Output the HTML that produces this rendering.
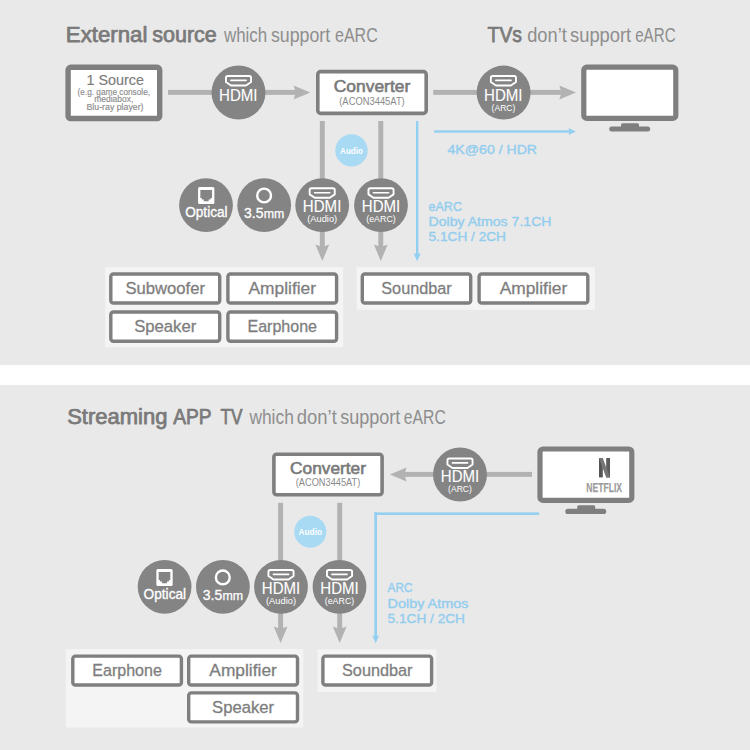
<!DOCTYPE html>
<html><head><meta charset="utf-8"><style>
html,body{margin:0;padding:0;background:#e9e9e9;}
body{width:750px;height:750px;overflow:hidden;}
svg{display:block;font-family:"Liberation Sans", sans-serif;}
</style></head><body>
<svg width="750" height="750" viewBox="0 0 750 750">
<rect x="0" y="0" width="750.00" height="750.00" rx="0" fill="#e9e9e9"/>
<rect x="0" y="365" width="750.00" height="20.00" rx="0" fill="#ffffff"/>
<text x="65.8" y="42" font-size="21.3" font-weight="normal" fill="#7a7a7a" text-anchor="start" textLength="81.6" lengthAdjust="spacingAndGlyphs" stroke="#7a7a7a" stroke-width="0.75" stroke-linejoin="round" >External</text>
<text x="152.2" y="42" font-size="21.3" font-weight="normal" fill="#7a7a7a" text-anchor="start" textLength="64.6" lengthAdjust="spacingAndGlyphs" stroke="#7a7a7a" stroke-width="0.75" stroke-linejoin="round" >source</text>
<text x="224.0" y="42" font-size="19.5" font-weight="normal" fill="#8e8e8e" text-anchor="start" textLength="43.2" lengthAdjust="spacingAndGlyphs" >which</text>
<text x="271.0" y="42" font-size="19.5" font-weight="normal" fill="#8e8e8e" text-anchor="start" textLength="59.2" lengthAdjust="spacingAndGlyphs" >support</text>
<text x="335.0" y="42" font-size="19.5" font-weight="normal" fill="#8e8e8e" text-anchor="start" textLength="42.8" lengthAdjust="spacingAndGlyphs" >eARC</text>
<text x="487.6" y="42" font-size="21.3" font-weight="normal" fill="#7a7a7a" text-anchor="start" textLength="34.4" lengthAdjust="spacingAndGlyphs" stroke="#7a7a7a" stroke-width="0.75" stroke-linejoin="round" >TVs</text>
<text x="527.2" y="42" font-size="19.5" font-weight="normal" fill="#8e8e8e" text-anchor="start" textLength="39.6" lengthAdjust="spacingAndGlyphs" >don’t</text>
<text x="570.0" y="42" font-size="19.5" font-weight="normal" fill="#8e8e8e" text-anchor="start" textLength="61.2" lengthAdjust="spacingAndGlyphs" >support</text>
<text x="635.2" y="42" font-size="19.5" font-weight="normal" fill="#8e8e8e" text-anchor="start" textLength="40.4" lengthAdjust="spacingAndGlyphs" >eARC</text>
<rect x="68.10" y="67.30" width="91.60" height="51.20" rx="2.6" fill="#fff" stroke="#7f7f7f" stroke-width="5.4"/>
<text x="115.3" y="85" font-size="14.5" font-weight="normal" fill="#7c7c7c" text-anchor="middle" textLength="57.5" lengthAdjust="spacingAndGlyphs" stroke="#7c7c7c" stroke-width="0.15" stroke-linejoin="round" >1 Source</text>
<text x="113.8" y="94.6" font-size="9.5" font-weight="normal" fill="#8a8a8a" text-anchor="middle" textLength="72.5" lengthAdjust="spacingAndGlyphs" stroke="#8a8a8a" stroke-width="0.15" stroke-linejoin="round" >(e.g. game console,</text>
<text x="113.8" y="102.2" font-size="9.5" font-weight="normal" fill="#8a8a8a" text-anchor="middle" textLength="39" lengthAdjust="spacingAndGlyphs" stroke="#8a8a8a" stroke-width="0.15" stroke-linejoin="round" >mediabox,</text>
<text x="115.0" y="110.2" font-size="9.5" font-weight="normal" fill="#8a8a8a" text-anchor="middle" textLength="57" lengthAdjust="spacingAndGlyphs" stroke="#8a8a8a" stroke-width="0.15" stroke-linejoin="round" >Blu-ray player)</text>
<rect x="168" y="89.92500000000001" width="128.80" height="4.95" rx="0" fill="#b2b2b2"/>
<polygon points="293.60,85.40 310.30,92.40 293.60,99.40 295.80,92.40" fill="#b2b2b2"/>
<circle cx="238.5" cy="92.5" r="27" fill="#848484"/>
<path d="M227.75,75.95 H249.25 Q251.05,75.95 251.05,77.75 V82.07 L246.05,85.45 H230.95 L225.95,82.07 V77.75 Q225.95,75.95 227.75,75.95 Z" fill="none" stroke="#fff" stroke-width="1.9" stroke-linejoin="round"/>
<rect x="230.10" y="79.60" width="16.80" height="1.7" rx="0.8" fill="#fff"/>
<text x="238.3" y="100.5" font-size="15.7" font-weight="normal" fill="#fff" text-anchor="middle" textLength="38.5" lengthAdjust="spacingAndGlyphs" stroke="#fff" stroke-width="0.1" stroke-linejoin="round" >HDMI</text>
<rect x="317.80" y="71.60" width="108.40" height="41.80" rx="2.8" fill="#fff" stroke="#7f7f7f" stroke-width="3.6"/>
<text x="372" y="91.8" font-size="17.2" font-weight="normal" fill="#7a7a7a" text-anchor="middle" textLength="76.5" lengthAdjust="spacingAndGlyphs" stroke="#7a7a7a" stroke-width="0.65" stroke-linejoin="round" >Converter</text>
<text x="372" y="104.5" font-size="10" font-weight="normal" fill="#8a8a8a" text-anchor="middle" textLength="65.5" lengthAdjust="spacingAndGlyphs" >(ACON3445AT)</text>
<rect x="433.2" y="89.92500000000001" width="129.30" height="4.95" rx="0" fill="#b2b2b2"/>
<polygon points="559.30,85.40 576.00,92.40 559.30,99.40 561.50,92.40" fill="#b2b2b2"/>
<circle cx="503.6" cy="92.6" r="27" fill="#848484"/>
<path d="M492.65,75.95 H514.15 Q515.95,75.95 515.95,77.75 V82.07 L510.95,85.45 H495.85 L490.85,82.07 V77.75 Q490.85,75.95 492.65,75.95 Z" fill="none" stroke="#fff" stroke-width="1.9" stroke-linejoin="round"/>
<rect x="495.00" y="79.60" width="16.80" height="1.7" rx="0.8" fill="#fff"/>
<text x="503.3" y="100.5" font-size="15.7" font-weight="normal" fill="#fff" text-anchor="middle" textLength="38.5" lengthAdjust="spacingAndGlyphs" stroke="#fff" stroke-width="0.1" stroke-linejoin="round" >HDMI</text>
<text x="503.5" y="110.6" font-size="9" font-weight="normal" fill="#fff" text-anchor="middle" textLength="23.8" lengthAdjust="spacingAndGlyphs" >(ARC)</text>
<rect x="583.80" y="67.20" width="92.00" height="51.20" rx="3" fill="#fff" stroke="#7f7f7f" stroke-width="5.2"/>
<path d="M621,127 V124.8 Q621,123.3 622.5,123.3 H637.5 Q639,123.3 639,124.8 V127 Z" fill="#7f7f7f"/>
<rect x="609.2" y="126.6" width="41.00" height="5.00" rx="2.5" fill="#7f7f7f"/>
<rect x="434" y="130.3" width="136.40" height="2.40" rx="0" fill="#93cff0"/>
<polygon points="568.60,128.00 576.00,131.50 568.60,135.00 569.40,131.50" fill="#93cff0"/>
<text x="447.5" y="153.8" font-size="13.5" font-weight="normal" fill="#93cdee" text-anchor="start" textLength="89.5" lengthAdjust="spacingAndGlyphs" stroke="#93cdee" stroke-width="0.4" stroke-linejoin="round" >4K@60 / HDR</text>
<rect x="319.825" y="121" width="4.95" height="127.00" rx="0" fill="#b2b2b2"/>
<polygon points="315.40,244.60 322.30,261.10 329.20,244.60 322.30,247.00" fill="#b2b2b2"/>
<rect x="378.325" y="121" width="4.95" height="127.00" rx="0" fill="#b2b2b2"/>
<polygon points="373.90,244.60 380.80,261.10 387.70,244.60 380.80,247.00" fill="#b2b2b2"/>
<rect x="416.0" y="121" width="2.40" height="134.10" rx="0" fill="#93cff0"/>
<polygon points="413.70,253.30 417.20,261.30 420.70,253.30 417.20,254.10" fill="#93cff0"/>
<circle cx="351.5" cy="150.4" r="16.2" fill="#a8daf4"/>
<text x="351.5" y="153.8" font-size="9.3" font-weight="bold" fill="#fff" text-anchor="middle" textLength="22.8" lengthAdjust="spacingAndGlyphs" >Audio</text>
<circle cx="206" cy="205.2" r="26.9" fill="#848484"/>
<circle cx="264.2" cy="205.2" r="26.9" fill="#848484"/>
<circle cx="322.2" cy="205.2" r="26.9" fill="#848484"/>
<circle cx="381" cy="205.2" r="26.9" fill="#848484"/>
<rect x="198.04999999999998" y="187.1" width="16.30" height="17.00" rx="1.5" fill="#fff"/>
<path d="M200.35,190.10 H212.05 V197.90 H210.65 V199.50 H208.65 V201.30 H203.75 V199.50 H201.75 V197.90 H200.35 Z" fill="#848484"/>
<text x="206.4" y="217.2" font-size="14" font-weight="normal" fill="#fff" text-anchor="middle" textLength="42.5" lengthAdjust="spacingAndGlyphs" stroke="#fff" stroke-width="0.3" stroke-linejoin="round" >Optical</text>
<circle cx="264.1" cy="195.5" r="6.9" fill="none" stroke="#fff" stroke-width="2.4"/>
<text x="244.1" y="217.5" font-size="13.8" font-weight="normal" fill="#fff" text-anchor="start" textLength="19.4" lengthAdjust="spacingAndGlyphs" stroke="#fff" stroke-width="0.3" stroke-linejoin="round" >3.5</text>
<text x="263.8" y="217.5" font-size="12.7" font-weight="normal" fill="#fff" text-anchor="start" textLength="20.6" lengthAdjust="spacingAndGlyphs" stroke="#fff" stroke-width="0.25" stroke-linejoin="round" >mm</text>
<path d="M311.45,188.25 H332.95 Q334.75,188.25 334.75,190.05 V194.37 L329.75,197.75 H314.65 L309.65,194.37 V190.05 Q309.65,188.25 311.45,188.25 Z" fill="none" stroke="#fff" stroke-width="1.9" stroke-linejoin="round"/>
<rect x="313.80" y="191.90" width="16.80" height="1.7" rx="0.8" fill="#fff"/>
<text x="322.1" y="212.3" font-size="15.7" font-weight="normal" fill="#fff" text-anchor="middle" textLength="38.5" lengthAdjust="spacingAndGlyphs" stroke="#fff" stroke-width="0.1" stroke-linejoin="round" >HDMI</text>
<text x="322.2" y="222" font-size="9" font-weight="normal" fill="#fff" text-anchor="middle" textLength="30" lengthAdjust="spacingAndGlyphs" >(Audio)</text>
<path d="M370.25,188.25 H391.75 Q393.55,188.25 393.55,190.05 V194.37 L388.55,197.75 H373.45 L368.45,194.37 V190.05 Q368.45,188.25 370.25,188.25 Z" fill="none" stroke="#fff" stroke-width="1.9" stroke-linejoin="round"/>
<rect x="372.60" y="191.90" width="16.80" height="1.7" rx="0.8" fill="#fff"/>
<text x="381" y="212.3" font-size="15.7" font-weight="normal" fill="#fff" text-anchor="middle" textLength="38.5" lengthAdjust="spacingAndGlyphs" stroke="#fff" stroke-width="0.1" stroke-linejoin="round" >HDMI</text>
<text x="381" y="222" font-size="9" font-weight="normal" fill="#fff" text-anchor="middle" textLength="29.5" lengthAdjust="spacingAndGlyphs" >(eARC)</text>
<text x="428.5" y="210.7" font-size="13.5" font-weight="normal" fill="#93cdee" text-anchor="start" textLength="33.5" lengthAdjust="spacingAndGlyphs" stroke="#93cdee" stroke-width="0.4" stroke-linejoin="round" >eARC</text>
<text x="428.5" y="226.3" font-size="13.5" font-weight="normal" fill="#93cdee" text-anchor="start" textLength="123" lengthAdjust="spacingAndGlyphs" stroke="#93cdee" stroke-width="0.4" stroke-linejoin="round" >Dolby Atmos 7.1CH</text>
<text x="428.5" y="241.2" font-size="13.5" font-weight="normal" fill="#93cdee" text-anchor="start" textLength="77.5" lengthAdjust="spacingAndGlyphs" stroke="#93cdee" stroke-width="0.4" stroke-linejoin="round" >5.1CH / 2CH</text>
<rect x="105.3" y="267.2" width="237.90" height="80.00" rx="0" fill="#f4f4f4"/>
<rect x="356.7" y="267.2" width="238.30" height="42.60" rx="0" fill="#f4f4f4"/>
<rect x="110.80" y="274.00" width="108.90" height="29.00" rx="2.6" fill="#fff" stroke="#7f7f7f" stroke-width="3.4"/>
<text x="165.25" y="294.2" font-size="16.3" font-weight="normal" fill="#7e7e7e" text-anchor="middle" textLength="79.5" lengthAdjust="spacingAndGlyphs" stroke="#7e7e7e" stroke-width="0.3" stroke-linejoin="round" >Subwoofer</text>
<rect x="227.90" y="274.00" width="108.70" height="29.00" rx="2.6" fill="#fff" stroke="#7f7f7f" stroke-width="3.4"/>
<text x="282.25" y="294.2" font-size="16.3" font-weight="normal" fill="#7e7e7e" text-anchor="middle" textLength="67.5" lengthAdjust="spacingAndGlyphs" stroke="#7e7e7e" stroke-width="0.3" stroke-linejoin="round" >Amplifier</text>
<rect x="110.80" y="312.00" width="108.90" height="29.20" rx="2.6" fill="#fff" stroke="#7f7f7f" stroke-width="3.4"/>
<text x="165.25" y="332.2" font-size="16.3" font-weight="normal" fill="#7e7e7e" text-anchor="middle" textLength="62" lengthAdjust="spacingAndGlyphs" stroke="#7e7e7e" stroke-width="0.3" stroke-linejoin="round" >Speaker</text>
<rect x="227.90" y="312.00" width="108.70" height="29.20" rx="2.6" fill="#fff" stroke="#7f7f7f" stroke-width="3.4"/>
<text x="282.25" y="332.2" font-size="16.3" font-weight="normal" fill="#7e7e7e" text-anchor="middle" textLength="69.5" lengthAdjust="spacingAndGlyphs" stroke="#7e7e7e" stroke-width="0.3" stroke-linejoin="round" >Earphone</text>
<rect x="362.30" y="274.00" width="108.40" height="29.00" rx="2.6" fill="#fff" stroke="#7f7f7f" stroke-width="3.4"/>
<text x="416.5" y="294.2" font-size="16.3" font-weight="normal" fill="#7e7e7e" text-anchor="middle" textLength="70.5" lengthAdjust="spacingAndGlyphs" stroke="#7e7e7e" stroke-width="0.3" stroke-linejoin="round" >Soundbar</text>
<rect x="479.10" y="274.00" width="108.70" height="29.00" rx="2.6" fill="#fff" stroke="#7f7f7f" stroke-width="3.4"/>
<text x="533.45" y="294.2" font-size="16.3" font-weight="normal" fill="#7e7e7e" text-anchor="middle" textLength="67.5" lengthAdjust="spacingAndGlyphs" stroke="#7e7e7e" stroke-width="0.3" stroke-linejoin="round" >Amplifier</text>
<text x="67.2" y="424" font-size="21.3" font-weight="normal" fill="#7a7a7a" text-anchor="start" textLength="100.2" lengthAdjust="spacingAndGlyphs" stroke="#7a7a7a" stroke-width="0.75" stroke-linejoin="round" >Streaming</text>
<text x="173.2" y="424" font-size="21.3" font-weight="normal" fill="#7a7a7a" text-anchor="start" textLength="38.4" lengthAdjust="spacingAndGlyphs" stroke="#7a7a7a" stroke-width="0.75" stroke-linejoin="round" >APP</text>
<text x="220.6" y="424" font-size="21.3" font-weight="normal" fill="#7a7a7a" text-anchor="start" textLength="22.0" lengthAdjust="spacingAndGlyphs" stroke="#7a7a7a" stroke-width="0.75" stroke-linejoin="round" >TV</text>
<text x="249.4" y="424" font-size="19.5" font-weight="normal" fill="#8e8e8e" text-anchor="start" textLength="44.4" lengthAdjust="spacingAndGlyphs" >which</text>
<text x="296.8" y="424" font-size="19.5" font-weight="normal" fill="#8e8e8e" text-anchor="start" textLength="40.0" lengthAdjust="spacingAndGlyphs" >don’t</text>
<text x="340.2" y="424" font-size="19.5" font-weight="normal" fill="#8e8e8e" text-anchor="start" textLength="60.2" lengthAdjust="spacingAndGlyphs" >support</text>
<text x="403.8" y="424" font-size="19.5" font-weight="normal" fill="#8e8e8e" text-anchor="start" textLength="42.0" lengthAdjust="spacingAndGlyphs" >eARC</text>
<rect x="273.90" y="454.30" width="108.20" height="40.40" rx="2.8" fill="#fff" stroke="#7f7f7f" stroke-width="3.6"/>
<text x="328" y="473.9" font-size="17.2" font-weight="normal" fill="#7a7a7a" text-anchor="middle" textLength="76" lengthAdjust="spacingAndGlyphs" stroke="#7a7a7a" stroke-width="0.65" stroke-linejoin="round" >Converter</text>
<text x="328" y="486.4" font-size="10" font-weight="normal" fill="#8a8a8a" text-anchor="middle" textLength="64.5" lengthAdjust="spacingAndGlyphs" >(ACON3445AT)</text>
<rect x="403.4" y="471.92499999999995" width="128.60" height="4.95" rx="0" fill="#b2b2b2"/>
<polygon points="406.60,467.40 389.90,474.40 406.60,481.40 404.40,474.40" fill="#b2b2b2"/>
<circle cx="460" cy="474.5" r="27" fill="#848484"/>
<path d="M449.25,458.45 H470.75 Q472.55,458.45 472.55,460.25 V464.57 L467.55,467.95 H452.45 L447.45,464.57 V460.25 Q447.45,458.45 449.25,458.45 Z" fill="none" stroke="#fff" stroke-width="1.9" stroke-linejoin="round"/>
<rect x="451.60" y="462.10" width="16.80" height="1.7" rx="0.8" fill="#fff"/>
<text x="460" y="481.8" font-size="15.7" font-weight="normal" fill="#fff" text-anchor="middle" textLength="38.5" lengthAdjust="spacingAndGlyphs" stroke="#fff" stroke-width="0.1" stroke-linejoin="round" >HDMI</text>
<text x="460" y="492.2" font-size="9" font-weight="normal" fill="#fff" text-anchor="middle" textLength="23.8" lengthAdjust="spacingAndGlyphs" >(ARC)</text>
<rect x="540.00" y="449.00" width="91.80" height="51.40" rx="3" fill="#fff" stroke="#7f7f7f" stroke-width="5.2"/>
<path d="M577.2,509.3 V506.8 Q577.2,505.3 578.7,505.3 H593.7 Q595.2,505.3 595.2,506.8 V509.3 Z" fill="#7f7f7f"/>
<rect x="565.3" y="508.8" width="40.90" height="5.20" rx="2.5999999999999943" fill="#7f7f7f"/>
<rect x="599" y="458" width="3.80" height="19.40" rx="0" fill="#555"/>
<rect x="606.2" y="458" width="3.80" height="19.40" rx="0" fill="#5c5c5c"/>
<polygon points="599.00,458.00 602.80,458.00 610.00,477.40 606.20,477.40" fill="#767676"/>
<text x="604.2" y="491.7" font-size="12.9" font-weight="bold" fill="#9c9c9c" text-anchor="middle" textLength="35.8" lengthAdjust="spacingAndGlyphs" stroke="#9c9c9c" stroke-width="0.25" stroke-linejoin="round" >NETFLIX</text>
<rect x="374.35" y="512.4" width="164.85" height="2.60" rx="0" fill="#93cff0"/>
<rect x="374.34999999999997" y="512.4" width="2.60" height="124.80" rx="0" fill="#93cff0"/>
<polygon points="372.25,635.40 375.65,643.20 379.05,635.40 375.65,636.20" fill="#93cff0"/>
<rect x="278.125" y="502.8" width="4.95" height="127.10" rx="0" fill="#b2b2b2"/>
<polygon points="273.70,626.50 280.60,643.00 287.50,626.50 280.60,628.90" fill="#b2b2b2"/>
<rect x="337.22499999999997" y="502.8" width="4.95" height="127.10" rx="0" fill="#b2b2b2"/>
<polygon points="332.80,626.50 339.70,643.00 346.60,626.50 339.70,628.90" fill="#b2b2b2"/>
<circle cx="310.3" cy="531.8" r="16" fill="#a8daf4"/>
<text x="310.3" y="535.1" font-size="9" font-weight="bold" fill="#fff" text-anchor="middle" textLength="23.5" lengthAdjust="spacingAndGlyphs" >Audio</text>
<circle cx="164.6" cy="586.8" r="26.9" fill="#848484"/>
<circle cx="222.9" cy="586.8" r="26.9" fill="#848484"/>
<circle cx="281" cy="586.8" r="26.9" fill="#848484"/>
<circle cx="339.5" cy="586.8" r="26.9" fill="#848484"/>
<rect x="156.35" y="569.1" width="16.30" height="17.00" rx="1.5" fill="#fff"/>
<path d="M158.65,572.10 H170.35 V579.90 H168.95 V581.50 H166.95 V583.30 H162.05 V581.50 H160.05 V579.90 H158.65 Z" fill="#848484"/>
<text x="164.85" y="599.4" font-size="14" font-weight="normal" fill="#fff" text-anchor="middle" textLength="42.5" lengthAdjust="spacingAndGlyphs" stroke="#fff" stroke-width="0.3" stroke-linejoin="round" >Optical</text>
<circle cx="222.8" cy="577.4" r="6.9" fill="none" stroke="#fff" stroke-width="2.4"/>
<text x="202.8" y="599.5" font-size="13.8" font-weight="normal" fill="#fff" text-anchor="start" textLength="19.4" lengthAdjust="spacingAndGlyphs" stroke="#fff" stroke-width="0.3" stroke-linejoin="round" >3.5</text>
<text x="222.5" y="599.5" font-size="12.7" font-weight="normal" fill="#fff" text-anchor="start" textLength="20.6" lengthAdjust="spacingAndGlyphs" stroke="#fff" stroke-width="0.25" stroke-linejoin="round" >mm</text>
<path d="M270.25,569.95 H291.75 Q293.55,569.95 293.55,571.75 V576.07 L288.55,579.45 H273.45 L268.45,576.07 V571.75 Q268.45,569.95 270.25,569.95 Z" fill="none" stroke="#fff" stroke-width="1.9" stroke-linejoin="round"/>
<rect x="272.60" y="573.60" width="16.80" height="1.7" rx="0.8" fill="#fff"/>
<text x="281" y="594.2" font-size="15.7" font-weight="normal" fill="#fff" text-anchor="middle" textLength="38.5" lengthAdjust="spacingAndGlyphs" stroke="#fff" stroke-width="0.1" stroke-linejoin="round" >HDMI</text>
<text x="281" y="603.7" font-size="9" font-weight="normal" fill="#fff" text-anchor="middle" textLength="30" lengthAdjust="spacingAndGlyphs" >(Audio)</text>
<path d="M328.75,569.95 H350.25 Q352.05,569.95 352.05,571.75 V576.07 L347.05,579.45 H331.95 L326.95,576.07 V571.75 Q326.95,569.95 328.75,569.95 Z" fill="none" stroke="#fff" stroke-width="1.9" stroke-linejoin="round"/>
<rect x="331.10" y="573.60" width="16.80" height="1.7" rx="0.8" fill="#fff"/>
<text x="339.5" y="594.2" font-size="15.7" font-weight="normal" fill="#fff" text-anchor="middle" textLength="38.5" lengthAdjust="spacingAndGlyphs" stroke="#fff" stroke-width="0.1" stroke-linejoin="round" >HDMI</text>
<text x="339.5" y="603.7" font-size="9" font-weight="normal" fill="#fff" text-anchor="middle" textLength="29.5" lengthAdjust="spacingAndGlyphs" >(eARC)</text>
<text x="387.5" y="592.4" font-size="13.5" font-weight="normal" fill="#93cdee" text-anchor="start" textLength="25" lengthAdjust="spacingAndGlyphs" stroke="#93cdee" stroke-width="0.4" stroke-linejoin="round" >ARC</text>
<text x="387.5" y="608" font-size="13.5" font-weight="normal" fill="#93cdee" text-anchor="start" textLength="81" lengthAdjust="spacingAndGlyphs" stroke="#93cdee" stroke-width="0.4" stroke-linejoin="round" >Dolby Atmos</text>
<text x="387.5" y="622.6" font-size="13.5" font-weight="normal" fill="#93cdee" text-anchor="start" textLength="77.5" lengthAdjust="spacingAndGlyphs" stroke="#93cdee" stroke-width="0.4" stroke-linejoin="round" >5.1CH / 2CH</text>
<rect x="65.7" y="649.1" width="237.60" height="78.50" rx="0" fill="#f4f4f4"/>
<rect x="317.5" y="649.3" width="119.00" height="42.60" rx="0" fill="#f4f4f4"/>
<rect x="72.80" y="656.10" width="108.60" height="28.90" rx="2.6" fill="#fff" stroke="#7f7f7f" stroke-width="3.4"/>
<text x="127.1" y="676.3" font-size="16.3" font-weight="normal" fill="#7e7e7e" text-anchor="middle" textLength="69.5" lengthAdjust="spacingAndGlyphs" stroke="#7e7e7e" stroke-width="0.3" stroke-linejoin="round" >Earphone</text>
<rect x="188.70" y="656.10" width="108.80" height="28.90" rx="2.6" fill="#fff" stroke="#7f7f7f" stroke-width="3.4"/>
<text x="243.1" y="676.3" font-size="16.3" font-weight="normal" fill="#7e7e7e" text-anchor="middle" textLength="67.5" lengthAdjust="spacingAndGlyphs" stroke="#7e7e7e" stroke-width="0.3" stroke-linejoin="round" >Amplifier</text>
<rect x="188.70" y="692.90" width="108.80" height="29.00" rx="2.6" fill="#fff" stroke="#7f7f7f" stroke-width="3.4"/>
<text x="243.1" y="713.1" font-size="16.3" font-weight="normal" fill="#7e7e7e" text-anchor="middle" textLength="62" lengthAdjust="spacingAndGlyphs" stroke="#7e7e7e" stroke-width="0.3" stroke-linejoin="round" >Speaker</text>
<rect x="322.90" y="656.10" width="108.70" height="28.90" rx="2.6" fill="#fff" stroke="#7f7f7f" stroke-width="3.4"/>
<text x="377.25" y="676.3" font-size="16.3" font-weight="normal" fill="#7e7e7e" text-anchor="middle" textLength="70.5" lengthAdjust="spacingAndGlyphs" stroke="#7e7e7e" stroke-width="0.3" stroke-linejoin="round" >Soundbar</text>
</svg>
</body></html>
